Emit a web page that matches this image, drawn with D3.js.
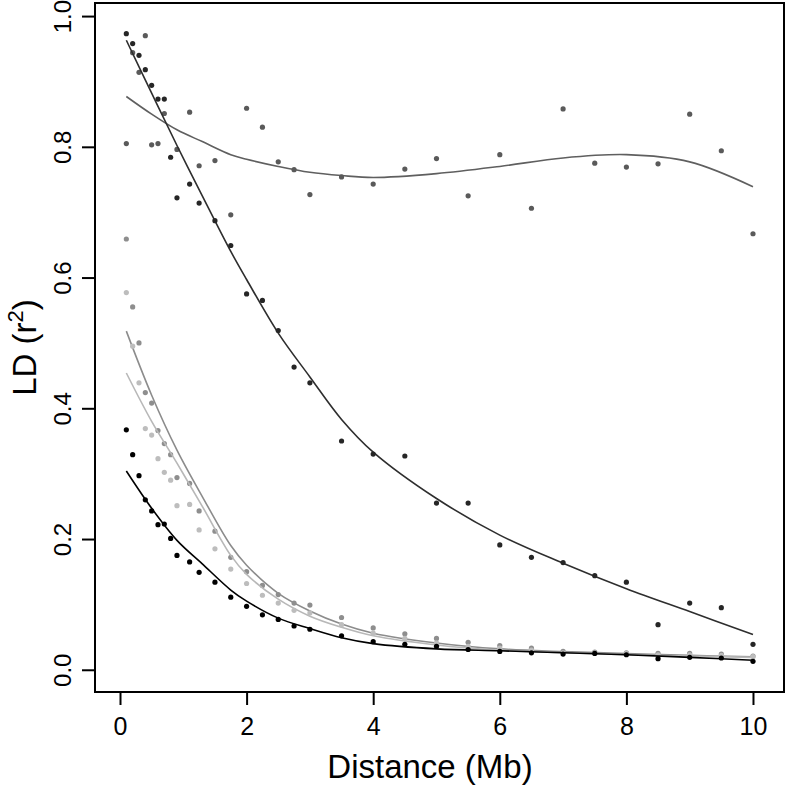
<!DOCTYPE html>
<html>
<head>
	<meta charset="UTF-8" />
	<title>LD decay</title>
	<script src="https://d3js.org/d3.v7.min.js"></script>
	<style type="text/css">
		body{margin:0; background:#fff;}
		text{font-family: "Liberation Sans", Arial, sans-serif; fill:#000;}
	</style>
</head>
<body>
	<svg id="chart"></svg>

	<script type="text/javascript">
	// distances (Mb) where the points sit
	var dist = [0.1,0.2,0.3,0.4,0.5,0.6,0.7,0.8,0.9,1.1,1.25,1.5,1.75,2,2.25,2.5,2.75,3,
		3.5,4,4.5,5,5.5,6,6.5,7,7.5,8,8.5,9,9.5,10]

	// r2 values, one array per population (null = no point)
	var ldA = [0.973,0.958,0.940,0.918,0.894,0.873,0.873,0.784,0.722,0.743,0.714,0.687,0.649,0.575,0.565,0.519,0.463,0.439,
		0.350,0.330,0.327,0.255,0.255,0.191,0.172,0.164,0.144,0.134,0.069,0.102,0.095,0.039]
	var ldB = [0.805,0.944,0.914,0.970,0.803,0.805,0.851,null,0.796,0.853,0.771,0.779,0.696,0.859,0.830,0.777,0.765,0.727,
		0.754,0.743,0.766,0.782,0.725,0.788,0.706,0.858,0.775,0.769,0.774,0.850,0.794,0.667]
	var ldC = [0.659,0.555,0.500,0.424,0.408,0.366,0.346,0.329,0.294,0.285,0.243,0.212,0.172,0.150,0.129,0.115,0.102,0.099,
		0.080,0.064,0.055,0.048,0.042,0.037,0.033,0.028,0.027,0.026,0.025,0.025,0.024,0.021]
	var ldD = [0.577,0.495,0.439,0.369,0.359,0.323,0.302,0.290,0.251,0.253,0.214,0.185,0.154,0.132,0.114,0.102,0.091,0.087,
		0.069,0.056,0.048,0.041,0.036,0.033,0.030,0.026,0.026,0.025,0.023,0.023,0.022,0.020]
	var ldE = [0.367,0.329,0.297,0.260,0.243,0.222,0.223,0.201,0.175,0.165,0.149,0.134,0.111,0.097,0.084,0.077,0.067,0.062,
		0.052,0.043,0.039,0.036,0.031,0.028,0.026,0.024,0.025,0.023,0.017,0.019,0.018,0.013]

	// fitted curves
	var fitX = [0.1,0.5,0.9,1.3,1.75,2,2.5,3,3.5,4,5,6,7,8,9,10]
	var fitA = [0.963,0.882,0.802,0.725,0.640,0.597,0.515,0.448,0.383,0.333,0.262,0.206,0.163,0.124,0.089,0.054]
	var fitB = [0.877,0.850,0.826,0.808,0.788,0.781,0.770,0.761,0.756,0.753,0.759,0.770,0.783,0.788,0.777,0.739]
	var fitC = [0.518,0.420,0.336,0.265,0.190,0.160,0.117,0.090,0.070,0.056,0.041,0.032,0.028,0.025,0.022,0.020]
	var fitD = [0.454,0.380,0.316,0.250,0.175,0.146,0.108,0.082,0.065,0.052,0.038,0.030,0.026,0.023,0.021,0.019]
	var fitE = [0.304,0.247,0.198,0.162,0.122,0.105,0.079,0.063,0.049,0.040,0.032,0.029,0.026,0.023,0.019,0.0145]

	var xTicks = [0,2,4,6,8,10]
	var yTicks = [0,0.2,0.4,0.6,0.8,1.0]

	var w = 789
	var h = 786
	var margin = {top: 3, right: 5, bottom: 94, left: 95}

	var svg = d3.select("#chart").attr("width", w).attr("height", h)

	var xScale = d3.scaleLinear().domain([-0.395, 10.49]).range([margin.left, w - margin.right])
	var yScale = d3.scaleLinear().domain([-0.034, 1.02]).range([h - margin.bottom, margin.top])

	var series = [
		{pts: ldB, fit: fitB, dot: "#5a5a5a", line: "#5f5f5f"},
		{pts: ldA, fit: fitA, dot: "#262626", line: "#2e2e2e"},
		{pts: ldC, fit: fitC, dot: "#8e8e8e", line: "#8c8c8c"},
		{pts: ldD, fit: fitD, dot: "#bdbdbd", line: "#b8b8b8"},
		{pts: ldE, fit: fitE, dot: "#000000", line: "#000000"}
	]

	var line = d3.line()
		.x(d=>xScale(d[0]))
		.y(d=>yScale(d[1]))
		.curve(d3.curveCatmullRom.alpha(0.5))

	series.forEach(s=>{
		svg.append("path")
			.datum(fitX.map((x,i)=>[x, s.fit[i]]))
			.attr("fill", "none")
			.attr("stroke", s.line)
			.attr("stroke-width", 1.6)
			.attr("d", line)

		svg.selectAll(null)
			.data(dist.map((x,i)=>[x, s.pts[i]]).filter(d=>d[1] != null))
			.enter()
			.append("circle")
			.attr("cx", d=>xScale(d[0]))
			.attr("cy", d=>yScale(d[1]))
			.attr("r", 2.6)
			.attr("fill", s.dot)
	})

	// box
	svg.append("rect")
		.attr("x", xScale.range()[0])
		.attr("y", yScale.range()[1])
		.attr("width", xScale.range()[1] - xScale.range()[0])
		.attr("height", yScale.range()[0] - yScale.range()[1])
		.attr("fill", "none")
		.attr("stroke", "#000")
		.attr("stroke-width", 2)

	// x axis
	var xAxis = svg.append("g")
		.attr("transform", "translate(0," + yScale.range()[0] + ")")
		.call(d3.axisBottom(xScale).tickValues(xTicks).tickSize(13).tickPadding(12).tickFormat(d3.format("d")))
	xAxis.select(".domain").remove()
	xAxis.selectAll("line").attr("stroke-width", 2)
	xAxis.selectAll("text").attr("font-size", 25).attr("font-family", "Liberation Sans, Arial, sans-serif")

	// y axis, labels turned like base R
	var yAxis = svg.append("g")
		.attr("transform", "translate(" + xScale.range()[0] + ",0)")
		.call(d3.axisLeft(yScale).tickValues(yTicks).tickSize(13).tickFormat(d3.format(".1f")))
	yAxis.select(".domain").remove()
	yAxis.selectAll("line").attr("stroke-width", 2)
	yAxis.selectAll("text")
		.attr("font-size", 24)
		.attr("font-family", "Liberation Sans, Arial, sans-serif")
		.attr("x", null)
		.attr("text-anchor", "middle")
		.attr("transform", "translate(-33,0) rotate(-90)")
		.attr("y", 0)
		.attr("dy", "0.36em")

	// titles
	svg.append("text")
		.attr("x", 430)
		.attr("y", 778)
		.attr("text-anchor", "middle")
		.attr("font-size", 33)
		.text("Distance (Mb)")

	var yt = svg.append("text")
		.attr("transform", "translate(36," + (yScale.range()[0] + yScale.range()[1]) / 2 + ") rotate(-90)")
		.attr("text-anchor", "middle")
		.attr("font-size", 33)
	yt.append("tspan").text("LD (r")
	yt.append("tspan").attr("font-size", 22).attr("dy", "-0.6em").text("2")
	yt.append("tspan").attr("dy", "0.4em").text(")")

	</script>
</body>
</html>
